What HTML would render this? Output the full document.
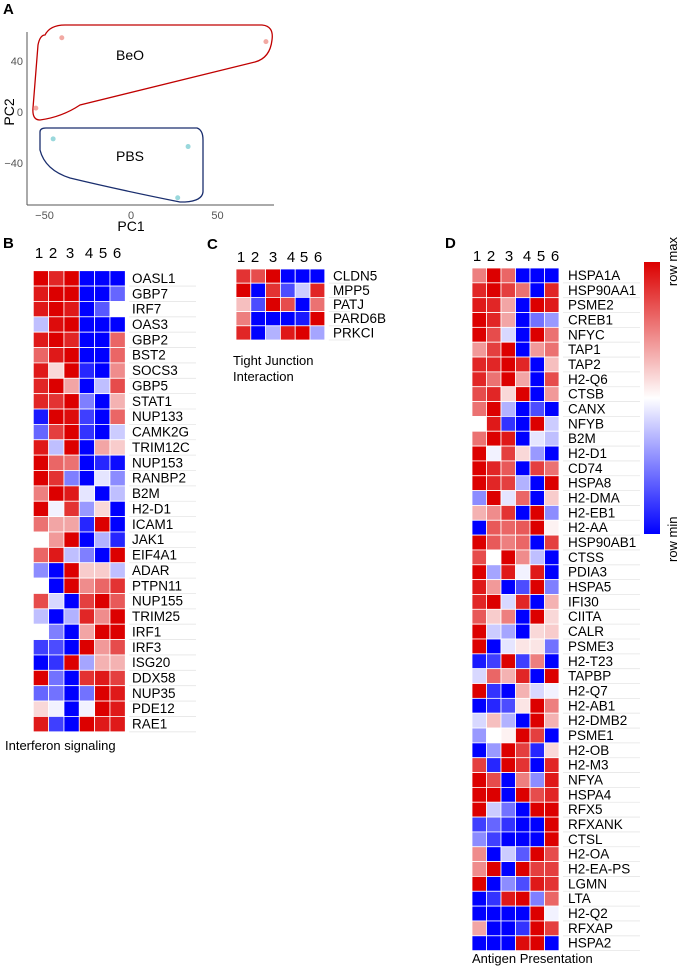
<!DOCTYPE html>
<html><head><meta charset="utf-8">
<style>
html,body{margin:0;padding:0;background:#fff;}
svg{display:block;font-family:"Liberation Sans",Arial,sans-serif;}
</style></head>
<body>
<svg id="fig" width="680" height="970" viewBox="0 0 680 970" xmlns="http://www.w3.org/2000/svg">
<defs>
<linearGradient id="cbar" x1="0" y1="0" x2="0" y2="1">
<stop offset="0" stop-color="#dc0000"/><stop offset="0.5" stop-color="#ffffff"/><stop offset="1" stop-color="#0000ff"/>
</linearGradient>
</defs>
<g id="pca">
<text x="3" y="14" font-size="15" font-weight="bold">A</text>
<line x1="27" y1="32" x2="27" y2="205" stroke="#555" stroke-width="1"/>
<line x1="27" y1="205" x2="274" y2="205" stroke="#555" stroke-width="1"/>
<path d="M45,35 Q50,25 65,25 L262,25 Q274,26 272,40 Q270,58 255,62 L80,105 Q62,117 40,120 Q32,120 33,108 L38,45 Q40,35 45,35 Z" fill="none" stroke="#c00000" stroke-width="1.3"/>
<path d="M40,132 Q40,128 46,128 L197,128 Q203,130 203,140 L203,192 Q202,201 185,202 L180,202 Q120,190 70,178 Q45,170 40,150 Z" fill="none" stroke="#1a2e6e" stroke-width="1.3"/>
<text x="130" y="60" font-size="14" text-anchor="middle">BeO</text>
<text x="130" y="161" font-size="14" text-anchor="middle">PBS</text>
<text x="131" y="231" font-size="14" text-anchor="middle">PC1</text>
<text x="14" y="112" font-size="14" text-anchor="middle" transform="rotate(-90 14 112)">PC2</text>
</g>
<g id="heat"></g>
<g>
<rect x="644" y="262" width="16" height="272" fill="url(#cbar)"/>
<text x="677" y="237" font-size="13" text-anchor="end" transform="rotate(-90 677 237)">row max</text>
<text x="677" y="562" font-size="13" transform="rotate(-90 677 562)">row min</text>
</g>
</svg>
<script>
// PCA data
const beoX=[-40,78,-55], beoY=[58,55,3];
const pbsX=[-45,33,27], pbsY=[-21,-27,-67];
const xTicks=[-50,0,50], yTicks=[40,0,-40];
// Heatmap data
const colLabels=["1","2","3","4","5","6"];
const genesB=["OASL1","GBP7","IRF7","OAS3","GBP2","BST2","SOCS3","GBP5","STAT1","NUP133","CAMK2G","TRIM12C","NUP153","RANBP2","B2M","H2-D1","ICAM1","JAK1","EIF4A1","ADAR","PTPN11","NUP155","TRIM25","IRF1","IRF3","ISG20","DDX58","NUP35","PDE12","RAE1"];
const valsB=[[1,.85,1,-1,-1,-1],[.9,1,1,-1,-1,-.6],[.9,1,.9,-1,-.65,0],[-.25,.95,1,-1,-1,-1],[.9,1,.85,-1,-1,.6],[.6,.9,1,-1,-1,.6],[.9,.15,1,-.85,-1,.45],[.85,1,.35,-1,-.25,.7],[.85,.8,1,-.5,-1,.3],[-.9,1,.95,-.75,-1,.6],[-.6,.75,1,-.8,-1,-.2],[.9,-.25,1,-1,.35,.2],[1,.6,.55,-1,-.85,-.95],[1,.8,-.5,-1,-.1,-.45],[.5,1,.9,-.1,-1,-.25],[1,-.05,.8,-.4,.15,-1],[.55,.35,.35,-.85,1,-1],[0,.4,1,-1,-.3,-.85],[.6,.9,-.25,-.5,-1,1],[-.45,-1,1,.2,.2,-.25],[0,-1,1,.45,.6,.8],[.7,-.15,-1,.75,1,.65],[-.25,-1,-.3,.85,.45,1],[0,-.5,-1,.35,1,1],[-.75,-.7,-1,1,.4,.7],[-1,-.8,1,-.35,.3,.3],[1,-.55,-1,.8,.9,.75],[-.6,-.55,-1,-.55,1,.9],[.15,-.05,-1,-.05,1,.9],[.9,-.75,-1,1,.9,.9]];
const genesC=["CLDN5","MPP5","PATJ","PARD6B","PRKCI"];
const valsC=[[.8,.7,1,-1,-1,-1],[1,-1,.8,-.7,-.2,.85],[.25,-.7,1,.7,-1,.55],[.5,-1,-1,-1,-.9,1],[.85,-1,-.3,.9,1,-.35]];
const genesD=["HSPA1A","HSP90AA1","PSME2","CREB1","NFYC","TAP1","TAP2","H2-Q6","CTSB","CANX","NFYB","B2M","H2-D1","CD74","HSPA8","H2-DMA","H2-EB1","H2-AA","HSP90AB1","CTSS","PDIA3","HSPA5","IFI30","CIITA","CALR","PSME3","H2-T23","TAPBP","H2-Q7","H2-AB1","H2-DMB2","PSME1","H2-OB","H2-M3","NFYA","HSPA4","RFX5","RFXANK","CTSL","H2-OA","H2-EA-PS","LGMN","LTA","H2-Q2","RFXAP","HSPA2"];
const valsD=[[.5,1,.6,-1,-1,-1],[.85,1,.75,.55,-1,.85],[.9,.85,.35,-1,1,.9],[1,.85,.35,-1,-.55,-.4],[1,.7,-.15,-1,1,.55],[.4,.75,1,-1,.4,.55],[.85,.85,1,.85,-1,.25],[.85,.55,1,.35,-1,.7],[.7,.85,.15,1,-1,.4],[.55,1,-.3,-1,-.7,-1],[0,.9,-.8,-1,1,-.2],[.55,1,.9,-1,-.1,-.25],[1,-.05,.75,.15,-.4,-1],[1,.85,.65,-1,.75,.55],[1,.85,.75,-.3,-1,1],[-.45,1,-.1,.6,-1,.2],[.3,.45,.8,-1,1,-.45],[-1,.65,.6,.65,1,.05],[1,.65,.5,.6,-1,.75],[.7,0,1,.45,-.25,-1],[1,-.35,.9,-.05,.9,-1],[.9,.4,-1,-.7,1,-.5],[.85,1,-.15,.85,-1,.3],[.65,.2,.5,-1,1,.15],[1,-.2,-.35,-1,.15,.2],[1,-1,-.1,.1,.1,-.55],[-.9,-.75,1,-.75,.5,-1],[-.15,.6,.3,.85,-1,1],[1,-.8,-1,.3,-.15,-.05],[-1,-.85,-.7,.1,1,.5],[-.15,.25,-.3,-1,1,.3],[-.4,0,.05,1,.75,-1],[-1,-.4,1,.75,-.85,.15],[.75,-.85,1,.8,-1,.85],[1,.7,-1,.5,-.45,.9],[1,1,-1,1,.7,.85],[1,-.2,-.55,-1,1,1],[-.75,-.6,-.8,-1,-1,1],[-.45,-.75,-1,-1,-1,1],[.45,-1,-.2,-.65,1,.7],[.45,1,-1,1,.75,.75],[1,-1,-.45,-.7,.9,.8],[-1,-.8,.9,1,-.5,.6],[-1,-1,-1,-1,1,-.05],[.35,-1,-1,-.8,1,.75],[-1,-1,-1,.95,1,-1]];

const NS="http://www.w3.org/2000/svg";
function mk(tag,attrs,parent){const e=document.createElementNS(NS,tag);for(const k in attrs)e.setAttribute(k,attrs[k]);parent.appendChild(e);return e;}
const pca=document.getElementById('pca');
const sx=v=>131+v*1.73, sy=v=>112-v*1.28;
xTicks.forEach(t=>{const e=mk('text',{x:sx(t),y:219,'font-size':11,fill:'#555','text-anchor':'middle'},pca);e.textContent=t===0?"0":(t<0?"\u2212"+(-t):t);

});
yTicks.forEach(t=>{const e=mk('text',{x:23,y:sy(t)+4,'font-size':11,fill:'#555','text-anchor':'end'},pca);e.textContent=t===0?"0":(t<0?"\u2212"+(-t):t);

});
beoX.forEach((x,i)=>{const c=mk('circle',{cx:sx(x),cy:sy(beoY[i]),r:2.5,fill:'#f2a9a3'},pca);

});
pbsX.forEach((x,i)=>{const c=mk('circle',{cx:sx(x),cy:sy(pbsY[i]),r:2.5,fill:'#9ad8dc'},pca);

});

function col(v){let r,g,b;if(v>=0){r=255-35*v;g=255-255*v;b=255-255*v;}else{const a=-v;r=255-255*a;g=255-255*a;b=255;}return `rgb(${r|0},${g|0},${b|0})`;}
const heat=document.getElementById('heat');
function drawHeat(o){
 const g=mk('g',{},heat);
 
 
 const p=mk('text',{x:o.px,y:o.py,'font-size':15,'font-weight':'bold'},g);p.textContent=o.letter;
 
 
 colLabels.forEach((c,j)=>{const t=mk('text',{x:o.colX[j],y:o.colY,'font-size':15,'text-anchor':'middle'},g);t.textContent=c;
 
 });
 o.genes.forEach((gn,i)=>{
  const y=o.y0+i*o.rh;
  mk('line',{x1:o.x0+6*o.cw+4,y1:y+o.rh,x2:o.lineEnd,y2:y+o.rh,stroke:'#e6e6e6','stroke-width':0.8},g);
  o.vals[i].forEach((v,j)=>{const r=mk('rect',{x:o.x0+j*o.cw,y:y,width:o.cw,height:o.rh,fill:col(v),stroke:'#fff','stroke-width':0.8},g);
  
  });
  const t=mk('text',{x:o.lx,y:y+o.rh/2+4.5,'font-size':13.5},g);t.textContent=gn;
  
  
 });
 o.title.forEach((s,k)=>{const t=mk('text',{x:o.tx,y:o.ty+k*16,'font-size':13},g);t.textContent=s;
 
 });
}
drawHeat({name:'heatmap-interferon',letter:'B',px:3,py:248,genes:genesB,vals:valsB,x0:33.3,y0:270.7,cw:15.33,rh:15.37,lx:132,lineEnd:196,colX:[39,53,70,89,103,117],colY:258,title:['Interferon signaling'],tx:5,ty:750});
drawHeat({name:'heatmap-tight-junction',letter:'C',px:207,py:249,genes:genesC,vals:valsC,x0:236,y0:269,cw:14.8,rh:14.2,lx:333,lineEnd:350,colX:[241,255,273,291,304,318],colY:262,title:['Tight Junction','Interaction'],tx:233,ty:365});
drawHeat({name:'heatmap-antigen',letter:'D',px:445,py:248,genes:genesD,vals:valsD,x0:472,y0:268,cw:14.5,rh:14.84,lx:568,lineEnd:640,colX:[477,491,509,527,541,555],colY:261,title:['Antigen Presentation'],tx:472,ty:963});
</script>
</body></html>
